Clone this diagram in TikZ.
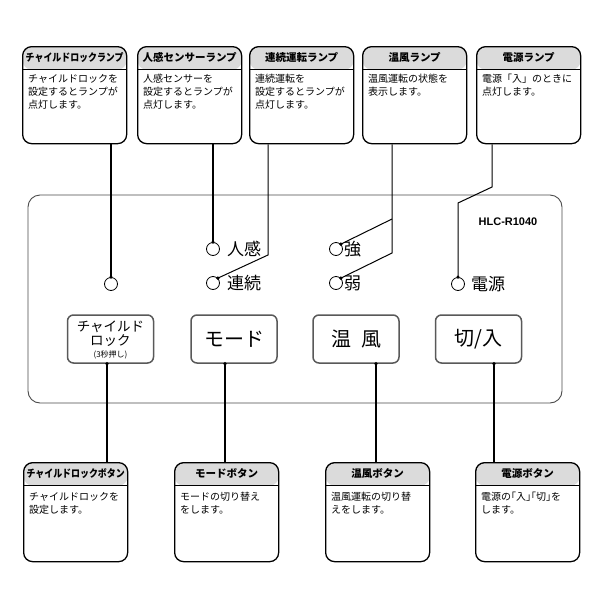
\documentclass[tikz,border=0pt]{standalone}
\usepackage{fontspec}
\setmainfont{Noto Sans CJK JP}
\newfontfamily\modelfont{Liberation Sans}
\usetikzlibrary{calc}

\definecolor{headgray}{gray}{0.86}
\definecolor{panelgray}{gray}{0.3}
\definecolor{btngray}{gray}{0.35}

\tikzset{
  infobox/.style={draw, line width=1.3pt, rounded corners=9pt, anchor=north west,
    minimum width=104pt, minimum height=97pt, inner sep=0pt,
    path picture={
      \fill[headgray] (path picture bounding box.north west)
        rectangle ([yshift=-23pt]path picture bounding box.north east);
      \draw[line width=0.9pt] ([yshift=-23pt]path picture bounding box.north west)
        -- ([yshift=-23pt]path picture bounding box.north east);}},
  headtext/.style={font=\fontsize{10.5}{12}\selectfont\bfseries, inner sep=0pt},
  bodytext/.style={font=\fontsize{10}{13}\selectfont, align=left, inner sep=0pt, anchor=north west},
  panel/.style={draw=panelgray, line width=0.9pt, rounded corners=12pt,
    minimum width=534pt, minimum height=208pt},
  lamp/.style={circle, draw, line width=0.8pt, minimum size=13pt, inner sep=0pt},
  lamplabel/.style={font=\fontsize{17}{17}\selectfont, anchor=west, inner sep=0pt},
  btn/.style={draw=btngray, line width=1.5pt, rounded corners=6pt, align=center,
    minimum width=86pt, minimum height=48pt, inner sep=0pt, font=\fontsize{20}{20}\selectfont},
  conn/.style={line width=1.6pt},
  thinconn/.style={line width=1pt}
}

\begin{document}
\begin{tikzpicture}[x=1pt, y=-1pt]
    \fill[white] (0,0) rectangle (600,600);

    % Lamp boxes (top row)
    \node[infobox] (b-cl) at (22,46) {};
    \node[headtext] (b-cl-t) at ($(b-cl.north)+(0,11.5)$) {\scalebox{0.85}[1]{チャイルドロックランプ}};
    \node[bodytext] (b-cl-x) at ($(b-cl.north west)+(6,28)$) {チャイルドロックを\\設定するとランプが\\点灯します。};

    \node[infobox] (b-hk) at (137,46) {};
    \node[headtext] (b-hk-t) at ($(b-hk.north)+(0,11.5)$) {人感センサーランプ};
    \node[bodytext] (b-hk-x) at ($(b-hk.north west)+(6,28)$) {人感センサーを\\設定するとランプが\\点灯します。};

    \node[infobox] (b-rz) at (249,46) {};
    \node[headtext] (b-rz-t) at ($(b-rz.north)+(0,11.5)$) {連続運転ランプ};
    \node[bodytext] (b-rz-x) at ($(b-rz.north west)+(6,28)$) {連続運転を\\設定するとランプが\\点灯します。};

    \node[infobox] (b-on) at (362,46) {};
    \node[headtext] (b-on-t) at ($(b-on.north)+(0,11.5)$) {温風ランプ};
    \node[bodytext] (b-on-x) at ($(b-on.north west)+(6,28)$) {温風運転の状態を\\表示します。};

    \node[infobox] (b-pw) at (476,46) {};
    \node[headtext] (b-pw-t) at ($(b-pw.north)+(0,11.5)$) {電源ランプ};
    \node[bodytext] (b-pw-x) at ($(b-pw.north west)+(6,28)$) {電源「入」のときに\\点灯します。};

    % Panel
    \node[panel] (panel) at (295,299) {};
    \node[font=\modelfont\bfseries\fontsize{11}{11}\selectfont, inner sep=0pt] (model) at (508,222) {HLC-R1040};

    % Lamps
    \node[lamp] (l-cl) at (111,284) {};
    \node[lamp] (l-hk) at (213,249) {};
    \node[lamp] (l-rz) at (213,283) {};
    \node[lamp] (l-st) at (336,249) {};
    \node[lamp] (l-wk) at (336,283) {};
    \node[lamp] (l-pw) at (458,284) {};
    \node[lamplabel] (t-hk) at ($(l-hk.east)+(7,0)$) {人感};
    \node[lamplabel] (t-rz) at ($(l-rz.east)+(7,0)$) {連続};
    \node[lamplabel] (t-st) at ($(l-st.east)+(1,0)$) {強};
    \node[lamplabel] (t-wk) at ($(l-wk.east)+(1,0)$) {弱};
    \node[lamplabel] (t-pw) at ($(l-pw.east)+(6,0)$) {電源};

    % Lamp leaders
    \coordinate (k-rz) at (268,255);
    \coordinate (k-st) at (392,219);
    \coordinate (k-wk) at (392,253);
    \coordinate (k-pw1) at (458,203);
    \coordinate (k-pw2) at (492,187);
    \draw[conn] (l-cl.north) -- (l-cl.north |- b-cl.south);
    \draw[conn] (l-hk.north) -- (l-hk.north |- b-hk.south);
    \draw[thinconn] (l-rz.north east) -- (k-rz) -- (k-rz |- b-rz.south);
    \draw[thinconn] (l-st.north east) -- (k-st);
    \draw[thinconn] (l-wk.north east) -- (k-wk) -- (k-wk |- b-on.south);
    \draw[thinconn] (l-pw.north) -- (k-pw1) -- (k-pw2) -- (k-pw2 |- b-pw.south);
    \foreach \p in {l-cl.north, l-hk.north, l-rz.north east, l-st.north east, l-wk.north east, l-pw.north}
        \fill (\p) circle (1.8pt);

    % Buttons
    \node[btn] (s-cl) at (110.5,339) {};
    \node[inner sep=0pt, font=\fontsize{13.5}{14}\selectfont, align=center] (s-cl-t) at (110.5,334) {チャイルド\\ロック};
    \node[inner sep=0pt, font=\fontsize{8}{8}\selectfont] (s-cl-n) at (110.5,355) {(3秒押し)};
    \node[btn] (s-md) at (234,339) {モード};
    \node[btn] (s-on) at (356,339) {温\hspace{0.5em}風};
    \node[btn] (s-pw) at (478.5,339) {切/入};

    % Button boxes (bottom row)
    \node[infobox, minimum height=99pt] (c-cl) at (23,462) {};
    \node[headtext] (c-cl-t) at ($(c-cl.north)+(0,11.5)$) {\scalebox{0.85}[1]{チャイルドロックボタン}};
    \node[bodytext] (c-cl-x) at ($(c-cl.north west)+(6,30)$) {チャイルドロックを\\設定します。};

    \node[infobox, minimum height=99pt] (c-md) at (174,462) {};
    \node[headtext] (c-md-t) at ($(c-md.north)+(0,11.5)$) {モードボタン};
    \node[bodytext] (c-md-x) at ($(c-md.north west)+(6,30)$) {モードの切り替え\\をします。};

    \node[infobox, minimum height=99pt] (c-on) at (325,462) {};
    \node[headtext] (c-on-t) at ($(c-on.north)+(0,11.5)$) {温風ボタン};
    \node[bodytext] (c-on-x) at ($(c-on.north west)+(6,30)$) {温風運転の切り替\\えをします。};

    \node[infobox, minimum height=99pt] (c-pw) at (475,462) {};
    \node[headtext] (c-pw-t) at ($(c-pw.north)+(0,11.5)$) {電源ボタン};
    \node[bodytext] (c-pw-x) at ($(c-pw.north west)+(6,30)$) {電源の｢入｣｢切｣を\\します。};

    % Button leaders
    \coordinate (d-cl) at ($(s-cl.south)+(-3.5,0)$);
    \coordinate (d-md) at ($(s-md.south)+(-9,0)$);
    \coordinate (d-on) at ($(s-on.south)+(20,0)$);
    \coordinate (d-pw) at ($(s-pw.south)+(15.5,0)$);
    \foreach \d/\b in {d-cl/c-cl, d-md/c-md, d-on/c-on, d-pw/c-pw} {
        \draw[conn] (\d) -- (\d |- \b.north);
        \fill (\d) circle (1.8pt);
    }
\end{tikzpicture}
\end{document}
